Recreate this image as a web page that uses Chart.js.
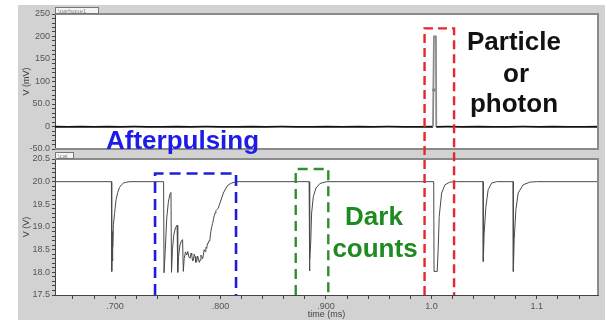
<!DOCTYPE html>
<html>
<head>
<meta charset="utf-8">
<script src="https://cdn.jsdelivr.net/npm/chart.js@4.4.1/dist/chart.umd.min.js"></script>
<style>
html, body { margin: 0; padding: 0; background: #fff; }
#wrap { position: relative; width: 607px; height: 320px; overflow: hidden; }
#bg { position: absolute; left: 18px; top: 5px; width: 587px; height: 315px; background: #d2d2d2; }
canvas { position: absolute; left: 0; }
#top { top: 0; }
#bot { top: 148px; }
#over { top: 0; pointer-events: none; }
</style>
</head>
<body>
<div id="wrap">
  <div id="bg"></div>
  <canvas id="top" width="607" height="158"></canvas>
  <canvas id="bot" width="607" height="172"></canvas>
  <canvas id="over" width="607" height="320"></canvas>
</div>
<script>
// time axis (ms)
const xMin = 0.643, xMax = 1.158;
const xTickValues = [0.7, 0.8, 0.9, 1.0, 1.1];
const xTickLabels = ['.700', '.800', '.900', '1.0', '1.1'];

// top trace, V (mV)
const topTickValues = [-50, 0, 50, 100, 150, 200, 250];
const topTickLabels = ['-50.0', '0', '50.0', '100', '150', '200', '250'];
const topTime = [0.643, 0.655, 0.668, 0.680, 0.693, 0.705, 0.718, 0.731, 0.745, 0.758,
  0.772, 0.786, 0.800, 0.815, 0.829, 0.843, 0.858, 0.872, 0.887, 0.901,
  0.916, 0.930, 0.945, 0.959, 0.974, 0.988, 1.0015, 1.0024, 1.0043, 1.0046,
  1.015, 1.029, 1.044, 1.058, 1.073, 1.087, 1.102, 1.116, 1.130, 1.145, 1.158];
const topVolt = [-0.6, -0.9, -0.5, -0.8, -0.6, -0.9, -0.5, -0.7, -0.9, -0.6,
  -0.8, -0.5, -0.9, -0.7, -0.6, -0.9, -0.5, -0.8, -0.7, -0.6,
  -0.9, -0.6, -0.8, -0.5, -0.7, -0.9, -0.6, 200, 200, -0.7,
  -0.5, -0.8, -0.6, -0.9, -0.7, -0.5, -0.8, -0.6, -0.9, -0.7, -0.6];
const markTime = [1.0023];
const markVolt = [81];

// bottom trace, V (V)
const botTickValues = [17.5, 18.0, 18.5, 19.0, 19.5, 20.0, 20.5];
const botTickLabels = ['17.5', '18.0', '18.5', '19.0', '19.5', '20.0', '20.5'];
const botTime = [0.643, 0.6965, 0.6968, 0.6971, 0.6974, 0.6977, 0.6980, 0.6984, 0.6995, 0.7009,
  0.7025, 0.7041, 0.7060, 0.7080, 0.7110, 0.7142,
  0.7460, 0.7464, 0.7474, 0.7490, 0.7505, 0.7520, 0.7530,
  0.7535, 0.7544, 0.7556, 0.7572, 0.7588,
  0.7594, 0.7602, 0.7615, 0.7630, 0.7640,
  0.7647, 0.7655, 0.7668, 0.7680, 0.7689, 0.7700, 0.7711, 0.7720, 0.7727, 0.7735,
  0.7742, 0.7750, 0.7758, 0.7766, 0.7774, 0.7782, 0.7790, 0.7798, 0.7806, 0.7814,
  0.7822, 0.7830, 0.7837, 0.7845, 0.7853, 0.7861, 0.7869, 0.7876, 0.7884, 0.7892,
  0.7900, 0.7908, 0.7917, 0.7925, 0.7932, 0.7940, 0.7948, 0.7956, 0.7964, 0.7972,
  0.7979, 0.7987, 0.7995, 0.8011, 0.8027, 0.8052, 0.8074, 0.8106, 0.8153,
  0.8840, 0.8843, 0.8848, 0.8855, 0.8864, 0.8880, 0.8905, 0.8943, 0.9007,
  1.0022, 1.0025, 1.0055, 1.0064, 1.0074, 1.0097, 1.0128, 1.0175, 1.0239,
  1.0490, 1.0492, 1.0500, 1.0517, 1.0538, 1.0571, 1.0618,
  1.0775, 1.0777, 1.0785, 1.0801, 1.0823, 1.0870, 1.0934, 1.0997, 1.158];
const botVolt = [20.0, 20.0, 18.02, 18.55, 18.25, 18.9, 18.55, 19.05, 19.3, 19.6,
  19.76, 19.87, 19.93, 19.97, 19.99, 20.0,
  20.0, 17.99, 18.4, 19.2, 19.55, 19.72, 19.76,
  18.0, 18.5, 18.82, 18.98, 19.04,
  18.0, 18.35, 18.6, 18.7, 18.72,
  18.02, 18.3, 18.45, 18.38, 18.46, 18.34, 18.31, 18.42, 18.38, 18.25,
  18.27, 18.40, 18.35, 18.22, 18.24, 18.36, 18.31, 18.22, 18.27, 18.38,
  18.35, 18.30, 18.38, 18.50, 18.46, 18.55, 18.53, 18.64, 18.64, 18.70,
  18.75, 18.90, 19.01, 19.08, 19.16, 19.25, 19.31, 19.36, 19.38, 19.40,
  19.42, 19.48, 19.53, 19.64, 19.75, 19.86, 19.93, 19.97, 20.0,
  20.0, 18.03, 18.3, 18.64, 19.31, 19.67, 19.86, 19.96, 20.0,
  20.0, 18.02, 18.02, 18.5, 19.23, 19.75, 19.93, 19.99, 20.0,
  20.0, 18.24, 18.86, 19.45, 19.82, 19.97, 20.0,
  20.0, 18.02, 18.72, 19.38, 19.75, 19.93, 19.99, 20.0, 20.0];

// dashed annotation boxes: [left time, right time, top value]
const boxAfter = [0.7379, 0.8147, 20.18];
const boxDark = [0.8713, 0.9022, 20.28];
const boxPhoton = [0.9935, 1.0215, 218];

const FONT = 'Liberation Sans, Arial, sans-serif';
const tickFont = { family: FONT, size: 9 };

function pick(values, labels) {
  return v => {
    const i = values.findIndex(t => Math.abs(t - v) < 1e-6);
    return i >= 0 ? labels[i] : '';
  };
}

function panel(tabText, tabW, drawBottom) {
  return {
    id: 'panel',
    beforeDraw(chart) {
      const { ctx, chartArea: a } = chart;
      ctx.save();
      ctx.fillStyle = '#fff';
      ctx.fillRect(a.left, a.top, a.right - a.left, a.bottom - a.top);
      ctx.restore();
    },
    afterDraw(chart) {
      const { ctx, chartArea: a } = chart;
      ctx.save();
      ctx.strokeStyle = '#8a8a8a';
      ctx.lineWidth = 2;
      ctx.beginPath();
      ctx.moveTo(a.left, a.top);
      ctx.lineTo(a.right, a.top);
      ctx.lineTo(a.right, a.bottom);
      if (drawBottom) ctx.lineTo(a.left, a.bottom);
      ctx.stroke();
      // little title tab
      ctx.fillStyle = '#f4f4f4';
      ctx.fillRect(a.left, a.top - 6, tabW, 6);
      ctx.lineWidth = 1;
      ctx.strokeStyle = '#777';
      ctx.strokeRect(a.left + 0.5, a.top - 6.5, tabW, 6);
      ctx.fillStyle = '#888';
      ctx.font = '6px ' + FONT;
      ctx.textBaseline = 'middle';
      ctx.fillText(tabText, a.left + 3, a.top - 3);
      ctx.restore();
    }
  };
}

const yAxisBase = {
  afterFit: s => { s.width = 37; },
  grid: { drawOnChartArea: false, tickLength: 3, color: '#444' },
  border: { color: '#444', width: 1 },
  title: { display: true, font: { family: FONT, size: 9 }, color: '#444', padding: { top: 3, bottom: 0 } }
};

const topChart = new Chart(document.getElementById('top'), {
  type: 'line',
  data: {
    datasets: [
      {
        data: topTime.map((t, i) => ({ x: t, y: topVolt[i] })),
        borderColor: '#111',
        borderWidth: 1.8,
        pointRadius: 0,
        tension: 0,
        segment: { borderColor: c => (c.p0.parsed.y > 20 || c.p1.parsed.y > 20) ? '#8a8a8a' : undefined }
      },
      {
        data: markTime.map((t, i) => ({ x: t, y: markVolt[i] })),
        showLine: false,
        pointRadius: 1.8,
        pointBorderWidth: 0,
        pointBackgroundColor: '#777'
      }
    ]
  },
  options: {
    responsive: false,
    animation: false,
    events: [],
    layout: { padding: { left: 18, right: 9, top: 14, bottom: 9 } },
    plugins: { legend: { display: false }, tooltip: { enabled: false } },
    scales: {
      x: { type: 'linear', min: xMin, max: xMax, display: false },
      y: Object.assign({}, yAxisBase, {
        min: -50, max: 250,
        ticks: { stepSize: 10, maxTicksLimit: 100, autoSkip: false, padding: 2, font: tickFont, color: '#555',
          callback: pick(topTickValues, topTickLabels) },
        title: Object.assign({}, yAxisBase.title, { text: 'V (mV)' })
      })
    }
  },
  plugins: [panel('\\parfsque1', 43, true)]
});

const botChart = new Chart(document.getElementById('bot'), {
  type: 'line',
  data: {
    datasets: [{
      data: botTime.map((t, i) => ({ x: t, y: botVolt[i] })),
      borderColor: '#4a4a4a',
      borderWidth: 1,
      pointRadius: 0,
      tension: 0
    }]
  },
  options: {
    responsive: false,
    animation: false,
    events: [],
    layout: { padding: { left: 18, right: 9, top: 11, bottom: 0 } },
    plugins: { legend: { display: false }, tooltip: { enabled: false } },
    scales: {
      x: {
        type: 'linear', min: xMin, max: xMax,
        afterFit: s => { s.height = 25; },
        afterBuildTicks: s => {
          const t = [];
          for (let v = 0.66; v < 1.155; v += 0.02) t.push({ value: Math.round(v * 1000) / 1000 });
          s.ticks = t;
        },
        ticks: { autoSkip: false, maxRotation: 0, padding: 2, font: tickFont, color: '#555',
          callback: pick(xTickValues, xTickLabels) },
        grid: { drawOnChartArea: false, tickLength: 4, color: '#444' },
        border: { color: '#444', width: 1 },
        title: { display: true, text: 'time (ms)', font: { family: FONT, size: 9 }, color: '#444', padding: { top: 0, bottom: 0 } }
      },
      y: Object.assign({}, yAxisBase, {
        min: 17.5, max: 20.5,
        ticks: { stepSize: 0.1, maxTicksLimit: 100, autoSkip: false, padding: 2, font: tickFont, color: '#555',
          callback: pick(botTickValues, botTickLabels) },
        title: Object.assign({}, yAxisBase.title, { text: 'V (V)' })
      })
    }
  },
  plugins: [panel('\\cat', 18, false)]
});

// annotations spanning both panels
(function drawOverlay() {
  const ctx = document.getElementById('over').getContext('2d');
  const botTop = 148;
  const xs = botChart.scales.x;
  const X = v => xs.getPixelForValue(v);
  const YB = v => botTop + botChart.scales.y.getPixelForValue(v);
  const YT = v => topChart.scales.y.getPixelForValue(v);
  const bottom = botTop + botChart.chartArea.bottom;

  function box(b, top, color, width, dash) {
    ctx.save();
    ctx.strokeStyle = color;
    ctx.lineWidth = width;
    ctx.setLineDash(dash);
    ctx.beginPath();
    ctx.moveTo(X(b[0]), bottom);
    ctx.lineTo(X(b[0]), top);
    ctx.lineTo(X(b[1]), top);
    ctx.lineTo(X(b[1]), bottom);
    ctx.stroke();
    ctx.restore();
  }
  box(boxAfter, YB(boxAfter[2]), '#1f1fd6', 2.6, [11, 6]);
  box(boxDark, YB(boxDark[2]), '#2f8f2f', 2.4, [10, 6]);
  box(boxPhoton, YT(boxPhoton[2]), '#e8262e', 2.4, [9, 5]);

  ctx.font = 'bold 26px ' + FONT;
  ctx.textBaseline = 'alphabetic';
  ctx.fillStyle = '#1c1ce6';
  ctx.textAlign = 'left';
  ctx.fillText('Afterpulsing', 106, 149);
  ctx.textAlign = 'center';
  ctx.fillStyle = '#1e8a22';
  ctx.fillText('Dark', 374, 225);
  ctx.fillText('counts', 375, 257);
  ctx.fillStyle = '#111';
  ctx.fillText('Particle', 514, 50);
  ctx.fillText('or', 516, 82);
  ctx.fillText('photon', 514, 112);
})();
</script>
</body>
</html>
